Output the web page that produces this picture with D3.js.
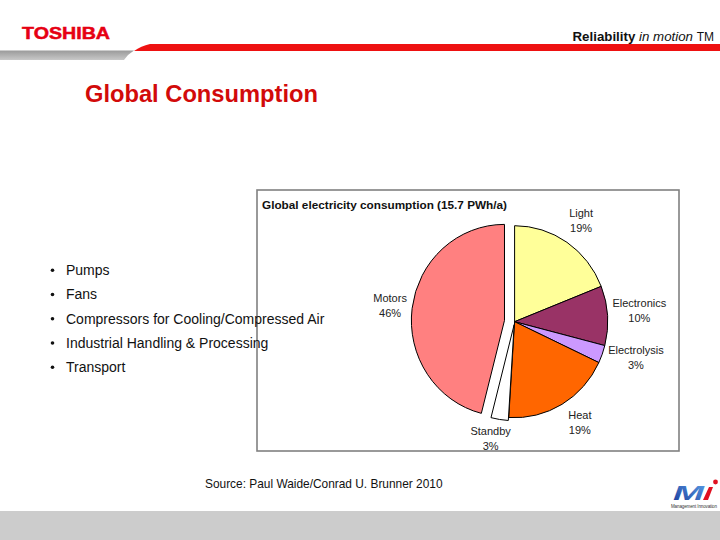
<!DOCTYPE html>
<html>
<head>
<meta charset="utf-8">
<script src="https://cdn.jsdelivr.net/npm/d3@7"></script>
<style>
  html, body { margin: 0; padding: 0; background: #fff; }
  svg { display: block; font-family: "Liberation Sans", Arial, sans-serif; }
</style>
</head>
<body>
<svg id="chart" width="720" height="540"></svg>
<script>
// ---- data ----
const categories = ["Light", "Electronics", "Electrolysis", "Heat", "Standby", "Motors"];
const shares = [19, 10, 3, 19, 3, 46];
const percentLabels = ["19%", "10%", "3%", "19%", "3%", "46%"];
const sliceColors = ["#FFFF99", "#993366", "#CC99FF", "#FF6600", "#FFFFFF", "#FF8080"];
const bulletItems = ["Pumps", "Fans", "Compressors for Cooling/Compressed Air", "Industrial Handling & Processing", "Transport"];
const chartTitle = "Global electricity consumption (15.7 PWh/a)";
const pageTitle = "Global Consumption";
const sourceText = "Source: Paul Waide/Conrad U. Brunner 2010";

// ---- layout (not data) ----
const explode = { Motors: 10.5, Standby: 3 };
const labelNudge = {
  Light: [0, -0.6], Electronics: [6.6, -3.2], Electrolysis: [10, -6],
  Heat: [5, -4.4], Standby: [-5, -6.5], Motors: [3, 0]
};

const svg = d3.select("#chart");
const defs = svg.append("defs");

// ---- header ----
svg.append("text").attr("x", 22).attr("y", 38.5)
  .attr("fill", "#e60012").attr("font-weight", 900).attr("font-size", 16.5)
  .attr("textLength", 88).attr("lengthAdjust", "spacingAndGlyphs")
  .attr("stroke", "#e60012").attr("stroke-width", 0.5)
  .text("TOSHIBA");

const gg = defs.append("linearGradient").attr("id", "grayBand").attr("x1", 0).attr("y1", 0).attr("x2", 0).attr("y2", 1);
gg.append("stop").attr("offset", 0).attr("stop-color", "#9a9a9a");
gg.append("stop").attr("offset", 1).attr("stop-color", "#c8c8c8");
svg.append("path").attr("d", "M0,50.5 L134,50.5 Q128,54 124,60 L0,60 Z").attr("fill", "url(#grayBand)");
svg.append("path").attr("d", "M150,44 L720,44 L720,51 L134,51 Q141,46 150,44 Z").attr("fill", "#ee1111");

const rt = svg.append("text").attr("x", 714).attr("y", 41).attr("text-anchor", "end")
  .attr("font-size", 13.3).attr("fill", "#111");
rt.append("tspan").attr("font-weight", "bold").text("Reliability ");
rt.append("tspan").attr("font-style", "italic").text("in motion ");
rt.append("tspan").attr("font-size", 12).text("TM");

svg.append("text").attr("x", 85).attr("y", 102)
  .attr("fill", "#d20a0a").attr("font-weight", "bold").attr("font-size", 23.7)
  .text(pageTitle);

// ---- chart box (transparent) ----
svg.append("rect").attr("x", 257).attr("y", 190).attr("width", 422).attr("height", 261)
  .attr("fill", "none").attr("stroke", "#808080").attr("stroke-width", 1.6);
svg.append("text").attr("x", 262).attr("y", 208.5).attr("font-size", 11.6).attr("font-weight", "bold")
  .attr("fill", "#111").attr("textLength", 245).attr("lengthAdjust", "spacingAndGlyphs").text(chartTitle);

// ---- bullets ----
const by = d3.scalePoint().domain(bulletItems).range([275, 372]);
const bl = svg.append("g").attr("font-size", 14).attr("fill", "#111");
bulletItems.forEach(t => {
  bl.append("circle").attr("cx", 52.5).attr("cy", by(t) - 4.7).attr("r", 1.8).attr("fill", "#111");
  bl.append("text").attr("x", 66).attr("y", by(t)).text(t);
});

// ---- pie ----
const cx = 514.6, cy = 321.7, R = 96, sx = 0.97;
const pie = d3.pie().sort(null).value((d, i) => shares[i]);
const arcs = pie(categories);
const arc = d3.arc().innerRadius(0).outerRadius(R);
const labelArc = d3.arc().innerRadius(122).outerRadius(122);

const pg = svg.append("g").attr("transform", `translate(${cx},${cy}) scale(${sx},1)`);
pg.selectAll("path").data(arcs).enter().append("path")
  .attr("transform", d => {
    const e = explode[d.data] || 0;
    const m = (d.startAngle + d.endAngle) / 2;
    return `translate(${e * Math.sin(m)},${-e * Math.cos(m)})`;
  })
  .attr("d", arc)
  .attr("fill", (d, i) => sliceColors[i])
  .attr("stroke", "#000").attr("stroke-width", 1).attr("vector-effect", "non-scaling-stroke");

const lg = svg.append("g").attr("font-size", 11).attr("fill", "#222").attr("text-anchor", "middle");
arcs.forEach((d, i) => {
  const c = labelArc.centroid(d);
  const e = explode[d.data] || 0;
  const m = (d.startAngle + d.endAngle) / 2;
  const n = labelNudge[d.data];
  const x = cx + sx * (c[0] + e * Math.sin(m)) + n[0];
  const y = cy + c[1] - e * Math.cos(m) + n[1];
  const t = lg.append("text").attr("x", x).attr("y", y - 3.5);
  t.append("tspan").attr("x", x).text(d.data);
  t.append("tspan").attr("x", x).attr("dy", 15).text(percentLabels[i]);
});

// ---- source ----
svg.append("text").attr("x", 205).attr("y", 488).attr("font-size", 11.9).attr("fill", "#111").text(sourceText);

// ---- footer ----
svg.append("rect").attr("x", 0).attr("y", 511).attr("width", 720).attr("height", 29).attr("fill", "#cccccc");

const bg = defs.append("linearGradient").attr("id", "blueLogo").attr("x1", 0).attr("y1", 1).attr("x2", 1).attr("y2", 0);
bg.append("stop").attr("offset", 0).attr("stop-color", "#1a3a9a");
bg.append("stop").attr("offset", 1).attr("stop-color", "#5aa0e8");
svg.append("text").attr("x", 673).attr("y", 500).attr("font-size", 20).attr("font-weight", 900)
  .attr("font-style", "italic").attr("fill", "url(#blueLogo)")
  .attr("textLength", 31).attr("lengthAdjust", "spacingAndGlyphs").text("M");
svg.append("path").attr("d", "M703,500 L708,500 L713,487 L709,487 Z").attr("fill", "#e01020");
svg.append("circle").attr("cx", 715.5).attr("cy", 482).attr("r", 2.4).attr("fill", "#e01020");
svg.append("text").attr("x", 671).attr("y", 508).attr("font-size", 4.5).attr("fill", "#333")
  .attr("textLength", 46).text("Management Innovation");
</script>
</body>
</html>
